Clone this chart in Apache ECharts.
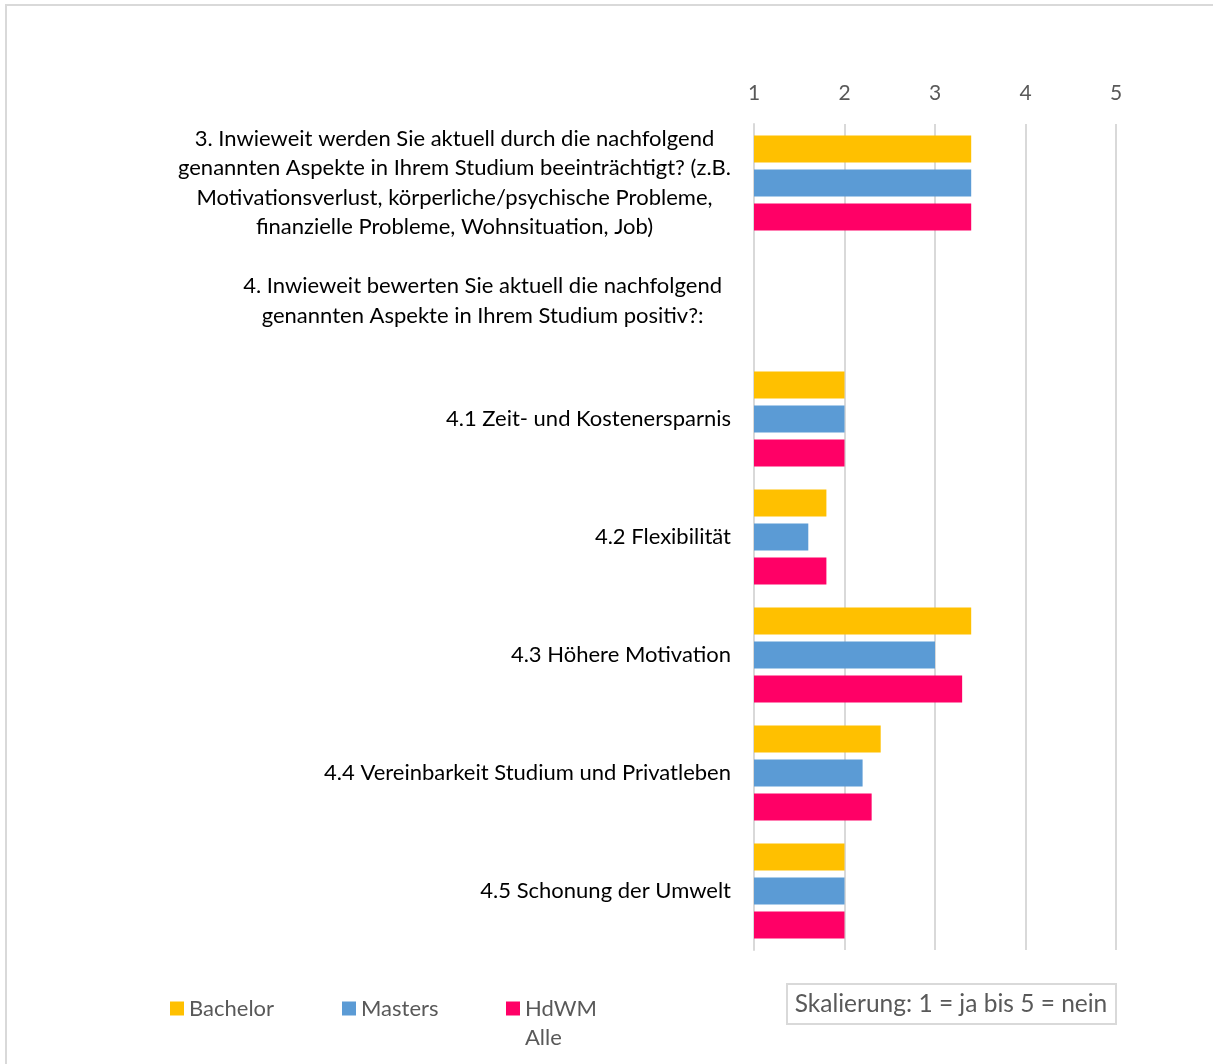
<!DOCTYPE html>
<html>
<head>
<meta charset="utf-8">
<script src="https://cdn.jsdelivr.net/npm/echarts@6/dist/echarts.min.js"></script>
<style>
  html, body { margin: 0; padding: 0; background: #fff; }
  #chart { width: 1213px; height: 1064px; }
</style>
</head>
<body>
<div id="chart"></div>
<script>
// --- data ---
const categories = [
  '3. Inwieweit werden Sie aktuell durch die nachfolgend\ngenannten Aspekte in Ihrem Studium beeinträchtigt? (z.B.\nMotivationsverlust, körperliche/psychische Probleme,\nfinanzielle Probleme, Wohnsituation, Job)',
  '4. Inwieweit bewerten Sie aktuell die nachfolgend\ngenannten Aspekte in Ihrem Studium positiv?:',
  '4.1 Zeit- und Kostenersparnis',
  '4.2 Flexibilität',
  '4.3 Höhere Motivation',
  '4.4 Vereinbarkeit Studium und Privatleben',
  '4.5 Schonung der Umwelt'
];
const bachelor = [3.4, null, 2.0, 1.8, 3.4, 2.4, 2.0];
const masters  = [3.4, null, 2.0, 1.6, 3.0, 2.2, 2.0];
const hdwmAlle = [3.4, null, 2.0, 1.8, 3.3, 2.3, 2.0];
const seriesNames = ['Bachelor', 'Masters', 'HdWM Alle'];
const seriesColors = ['#FFC000', '#5B9BD5', '#FF0066'];
const scaleNote = 'Skalierung: 1 = ja bis 5 = nein';

const FONT = 'Lato';
const GRAY = '#595959';
const LINE = '#D9D9D9';

let chart = echarts.init(document.getElementById('chart'));

function mkSeries(name, data, color) {
  return {
    name: name,
    type: 'bar',
    data: data,
    barWidth: 27,
    barGap: '26%',
    itemStyle: { color: color },
    silent: true
  };
}

// one legend per entry so positions match the original layout
function mkLegend(name, left, top, fmt) {
  return {
    data: [name],
    left: left,
    top: top,
    padding: 0,
    icon: 'rect',
    itemWidth: 14,
    itemHeight: 14,
    itemGap: 0,
    selectedMode: false,
    formatter: fmt,
    textStyle: { fontFamily: FONT, fontSize: 22, color: GRAY, lineHeight: 29 }
  };
}

const labelStyle = { align: 'center', fontFamily: FONT, fontSize: 22, color: '#000', lineHeight: 29.5 };

chart.setOption({
  animation: false,
  grid: { left: 754, right: 97, top: 124, bottom: 114 },
  xAxis: {
    type: 'value',
    position: 'top',
    min: 1,
    max: 5,
    interval: 1,
    axisLine: { show: false },
    axisTick: { show: false },
    axisLabel: { fontFamily: FONT, fontSize: 21, color: GRAY, margin: 20 },
    splitLine: { lineStyle: { color: LINE, width: 2 } }
  },
  yAxis: {
    type: 'category',
    inverse: true,
    data: categories,
    axisLine: { lineStyle: { color: LINE, width: 2 } },
    axisTick: { length: 6, lineStyle: { color: LINE, width: 2 } },
    axisLabel: {
      interval: 0,
      margin: 23,
      // the second question sits a bit further left in the original
      formatter: (v, i) => (i === 1 ? '{q|' : '{c|') + v + '}',
      rich: {
        c: labelStyle,
        q: Object.assign({}, labelStyle, { padding: [0, 9, 0, 0] })
      }
    }
  },
  legend: [
    mkLegend(seriesNames[0], 170, 994, n => n),
    mkLegend(seriesNames[1], 342, 994, n => n),
    mkLegend(seriesNames[2], 506, 965, n => '\n' + n.replace(' ', '\n'))
  ],
  series: [
    mkSeries(seriesNames[0], bachelor, seriesColors[0]),
    mkSeries(seriesNames[1], masters, seriesColors[1]),
    mkSeries(seriesNames[2], hdwmAlle, seriesColors[2])
  ],
  graphic: [
    {
      type: 'rect',
      shape: { x: 6, y: 5, width: 1230, height: 1080 },
      style: { fill: 'none', stroke: LINE, lineWidth: 2 },
      silent: true
    },
    {
      type: 'rect',
      shape: { x: 787, y: 984, width: 329, height: 40 },
      style: { fill: '#fff', stroke: LINE, lineWidth: 2 },
      silent: true
    },
    {
      type: 'text',
      x: 951,
      y: 1004,
      style: {
        text: scaleNote,
        fontFamily: FONT,
        fontSize: 24.5,
        fill: GRAY,
        align: 'center',
        verticalAlign: 'middle'
      },
      silent: true
    }
  ]
});
</script>
</body>
</html>
